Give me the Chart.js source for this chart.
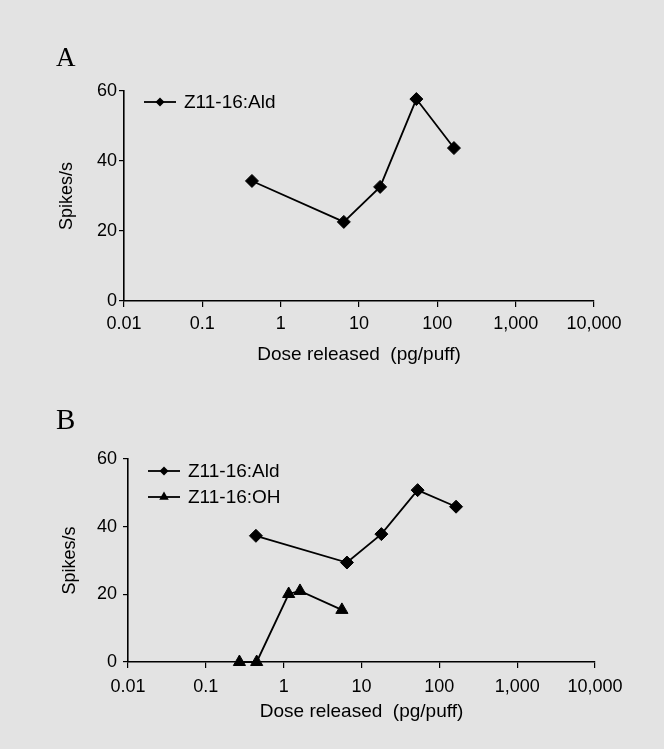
<!DOCTYPE html>
<html>
<head>
<meta charset="utf-8">
<script src="https://cdn.jsdelivr.net/npm/chart.js@4"></script>
<style>
  html, body { margin: 0; padding: 0; background: #e3e3e3; }
  #wrap { position: relative; width: 664px; height: 749px; }
  #boxA { position: absolute; left: 0; top: 0; width: 664px; height: 370px; }
  #boxB { position: absolute; left: 0; top: 370px; width: 664px; height: 379px; }
</style>
</head>
<body>
<div id="wrap">
  <div id="boxA"><canvas id="chartA"></canvas></div>
  <div id="boxB"><canvas id="chartB"></canvas></div>
</div>
<script>
// Données (dose en pg/puff, réponse en spikes/s)
const doseTicks = [0.01, 0.1, 1, 10, 100, 1000, 10000];
const spikeTicks = [0, 20, 40, 60];

const doseAldA = [0.43, 6.4, 18.6, 54, 163];
const spikesAldA = [34.3, 22.6, 32.6, 57.7, 43.7];

const doseAldB = [0.44, 6.5, 18, 52.6, 164];
const spikesAldB = [37.3, 29.4, 37.8, 50.8, 45.9];

const doseOhB = [0.27, 0.45, 1.16, 1.62, 5.6];
const spikesOhB = [0, 0, 20.1, 21, 15.4];

const labelAld = 'Z11-16:Ald';
const labelOh = 'Z11-16:OH';

const sansFont = '"Liberation Sans", Arial, sans-serif';
const serifFont = '"Liberation Serif", "Times New Roman", serif';

function toPoints(xs, ys) {
    return xs.map((x, i) => ({ x: x, y: ys[i] }));
}

function makeDataset(label, xs, ys, style, radius) {
    return {
        label: label,
        data: toPoints(xs, ys),
        borderColor: '#000',
        backgroundColor: '#000',
        borderWidth: 1.8,
        pointStyle: style,
        pointRadius: radius,
        pointBorderWidth: 1,
        pointBackgroundColor: '#000',
        showLine: true,
        tension: 0,
        clip: false
    };
}

// Dessine un marqueur (losange ou triangle) pour la légende
function drawMarker(ctx, style, x, y, r) {
    ctx.beginPath();
    if (style === 'rectRot') {
        ctx.moveTo(x - r, y);
        ctx.lineTo(x, y - r);
        ctx.lineTo(x + r, y);
        ctx.lineTo(x, y + r);
    } else {
        ctx.moveTo(x, y - r);
        ctx.lineTo(x + r * Math.sin(Math.PI / 3), y + r / 2);
        ctx.lineTo(x - r * Math.sin(Math.PI / 3), y + r / 2);
    }
    ctx.closePath();
    ctx.fill();
}

// Légende et lettre du panneau
const panelPlugin = {
    id: 'panel',
    afterDraw(chart, args, opts) {
        const ctx = chart.ctx;
        ctx.save();
        ctx.fillStyle = '#000';
        ctx.font = opts.letterSize + 'px ' + serifFont;
        ctx.textBaseline = 'alphabetic';
        ctx.textAlign = 'left';
        ctx.fillText(opts.letter, opts.letterX, opts.letterY);

        ctx.strokeStyle = '#000';
        ctx.lineWidth = 1.8;
        ctx.font = '19px ' + sansFont;
        ctx.textBaseline = 'middle';
        chart.data.datasets.forEach((ds, i) => {
            let y = opts.legendY + i * opts.legendGap;
            ctx.beginPath();
            ctx.moveTo(opts.legendX, y);
            ctx.lineTo(opts.legendX + 32, y);
            ctx.stroke();
            drawMarker(ctx, ds.pointStyle, opts.legendX + 16, y, ds.pointStyle === 'rectRot' ? 4.5 : 5.5);
            ctx.fillText(ds.label, opts.legendX + 40, y + 1);
        });
        ctx.restore();
    }
};

function makeOptions(cfg) {
    return {
        responsive: true,
        maintainAspectRatio: false,
        animation: false,
        events: [],
        layout: { padding: { top: cfg.top, right: cfg.right, left: 0, bottom: 0 } },
        plugins: {
            legend: { display: false },
            tooltip: { enabled: false },
            panel: cfg.panel
        },
        scales: {
            x: {
                type: 'logarithmic',
                min: 0.01,
                max: 10000,
                afterBuildTicks: (scale) => {
                    scale.ticks = doseTicks.map(v => ({ value: v }));
                },
                afterFit: (scale) => { scale.height = cfg.xHeight; },
                ticks: {
                    color: '#000',
                    font: { family: sansFont, size: 18 },
                    padding: cfg.xTickPad,
                    maxRotation: 0,
                    autoSkip: false,
                    callback: (v) => Number(v).toLocaleString('en-US')
                },
                grid: { drawOnChartArea: false, drawTicks: true, tickLength: 6, color: '#000', lineWidth: 1.2 },
                border: { display: true, color: '#000', width: 1.6 },
                title: {
                    display: true,
                    text: 'Dose released  (pg/puff)',
                    color: '#000',
                    font: { family: sansFont, size: 19 },
                    padding: { top: 0, bottom: cfg.xTitlePad }
                }
            },
            y: {
                min: 0,
                max: 60,
                afterBuildTicks: (scale) => {
                    scale.ticks = spikeTicks.map(v => ({ value: v }));
                },
                afterFit: (scale) => { scale.width = cfg.yWidth; },
                ticks: {
                    color: '#000',
                    font: { family: sansFont, size: 18 },
                    padding: cfg.yTickPad
                },
                grid: { drawOnChartArea: false, drawTicks: true, tickLength: 5, color: '#000', lineWidth: 1.2 },
                border: { display: true, color: '#000', width: 1.6 },
                title: {
                    display: true,
                    text: 'Spikes/s',
                    color: '#000',
                    font: { family: sansFont, size: 18 },
                    padding: { top: cfg.yTitlePad, bottom: 0 }
                }
            }
        }
    };
}

Chart.register(panelPlugin);

new Chart(document.getElementById('chartA'), {
    type: 'scatter',
    data: {
        datasets: [makeDataset(labelAld, doseAldA, spikesAldA, 'rectRot', 6.5)]
    },
    options: makeOptions({
        top: 91, right: 70, xHeight: 69, yWidth: 124,
        xTickPad: 6, xTitlePad: 4, yTickPad: 2, yTitlePad: 56,
        panel: { letter: 'A', letterSize: 27, letterX: 56, letterY: 66, legendX: 144, legendY: 102, legendGap: 26 }
    })
});

new Chart(document.getElementById('chartB'), {
    type: 'scatter',
    data: {
        datasets: [
            makeDataset(labelAld, doseAldB, spikesAldB, 'rectRot', 6.5),
            makeDataset(labelOh, doseOhB, spikesOhB, 'triangle', 7)
        ]
    },
    options: makeOptions({
        top: 89, right: 69, xHeight: 87, yWidth: 128,
        xTickPad: 8, xTitlePad: 26, yTickPad: 6, yTitlePad: 59,
        panel: { letter: 'B', letterSize: 29, letterX: 56, letterY: 59, legendX: 148, legendY: 101, legendGap: 26 }
    })
});
</script>
</body>
</html>
